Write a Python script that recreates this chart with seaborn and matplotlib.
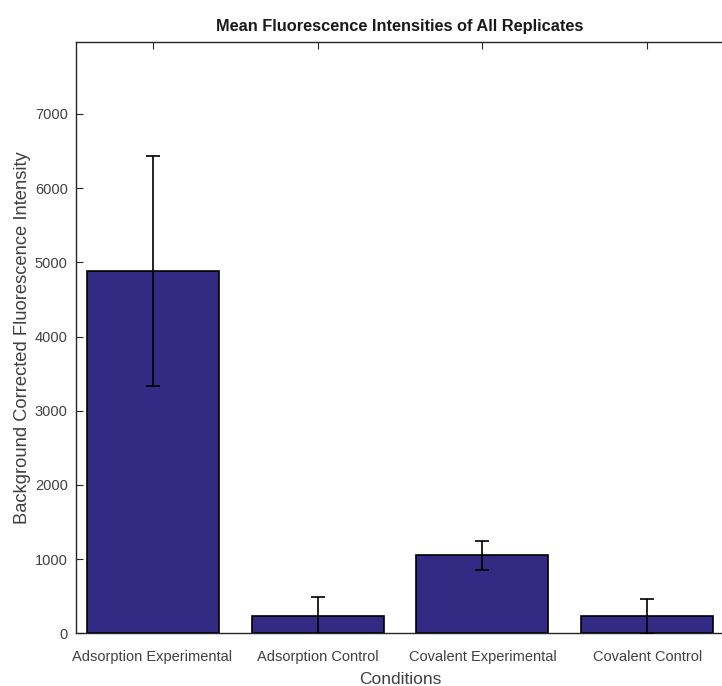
import matplotlib
matplotlib.use("Agg")
import matplotlib.pyplot as plt
import seaborn as sns
import pandas as pd
import numpy as np

conditions = ["Adsorption Experimental", "Adsorption Control", "Covalent Experimental", "Covalent Control"]
means = [4885, 229, 1050, 229]
errors = [1550, 257, 200, 234]
yticks = [0, 1000, 2000, 3000, 4000, 5000, 6000, 7000]

sns.set_style("white")
plt.rcParams['font.family'] = ['Liberation Sans', 'DejaVu Sans']

df = pd.DataFrame({"Conditions": conditions, "Mean": means})

fig = plt.figure(figsize=(7.22, 6.86), dpi=100)
ax = fig.add_axes([76/722, 1-633.3/686, 648/722, (633.3-42)/686])

sns.barplot(data=df, x="Conditions", y="Mean", ax=ax, color="#332a84", saturation=1,
            width=0.8, edgecolor="black", linewidth=1.2, errorbar=None)
ax.errorbar(np.arange(len(conditions)), means, yerr=errors, fmt="none", ecolor="black",
            elinewidth=1.2, capsize=5, capthick=1.2, zorder=5)

ax.set_xlim(-0.464, 3.464)
ax.set_ylim(0, 7970)
ax.set_yticks(yticks)
ax.set_yticklabels([str(t) for t in yticks])

for s in ["left", "bottom", "top"]:
    ax.spines[s].set_visible(True)
    ax.spines[s].set_color("#262626")
    ax.spines[s].set_linewidth(1.0)
ax.spines["right"].set_visible(False)

ax.tick_params(axis="both", direction="in", length=5, width=0.8, colors="#262626",
               labelcolor="#404040", labelsize=10.5)
ax.tick_params(axis="x", top=True, bottom=True, pad=12)
ax.tick_params(axis="y", left=True, right=False, pad=6)

ax.set_xlabel("Conditions", fontsize=12.5, color="#404040", labelpad=6)
ax.set_ylabel("Background Corrected Fluorescence Intensity", fontsize=13.2, color="#404040", labelpad=3)
ax.set_title("Mean Fluorescence Intensities of All Replicates", fontsize=11.8, fontweight="bold",
             color="#1a1a1a", pad=8)

fig.savefig("out.png", dpi=100)
